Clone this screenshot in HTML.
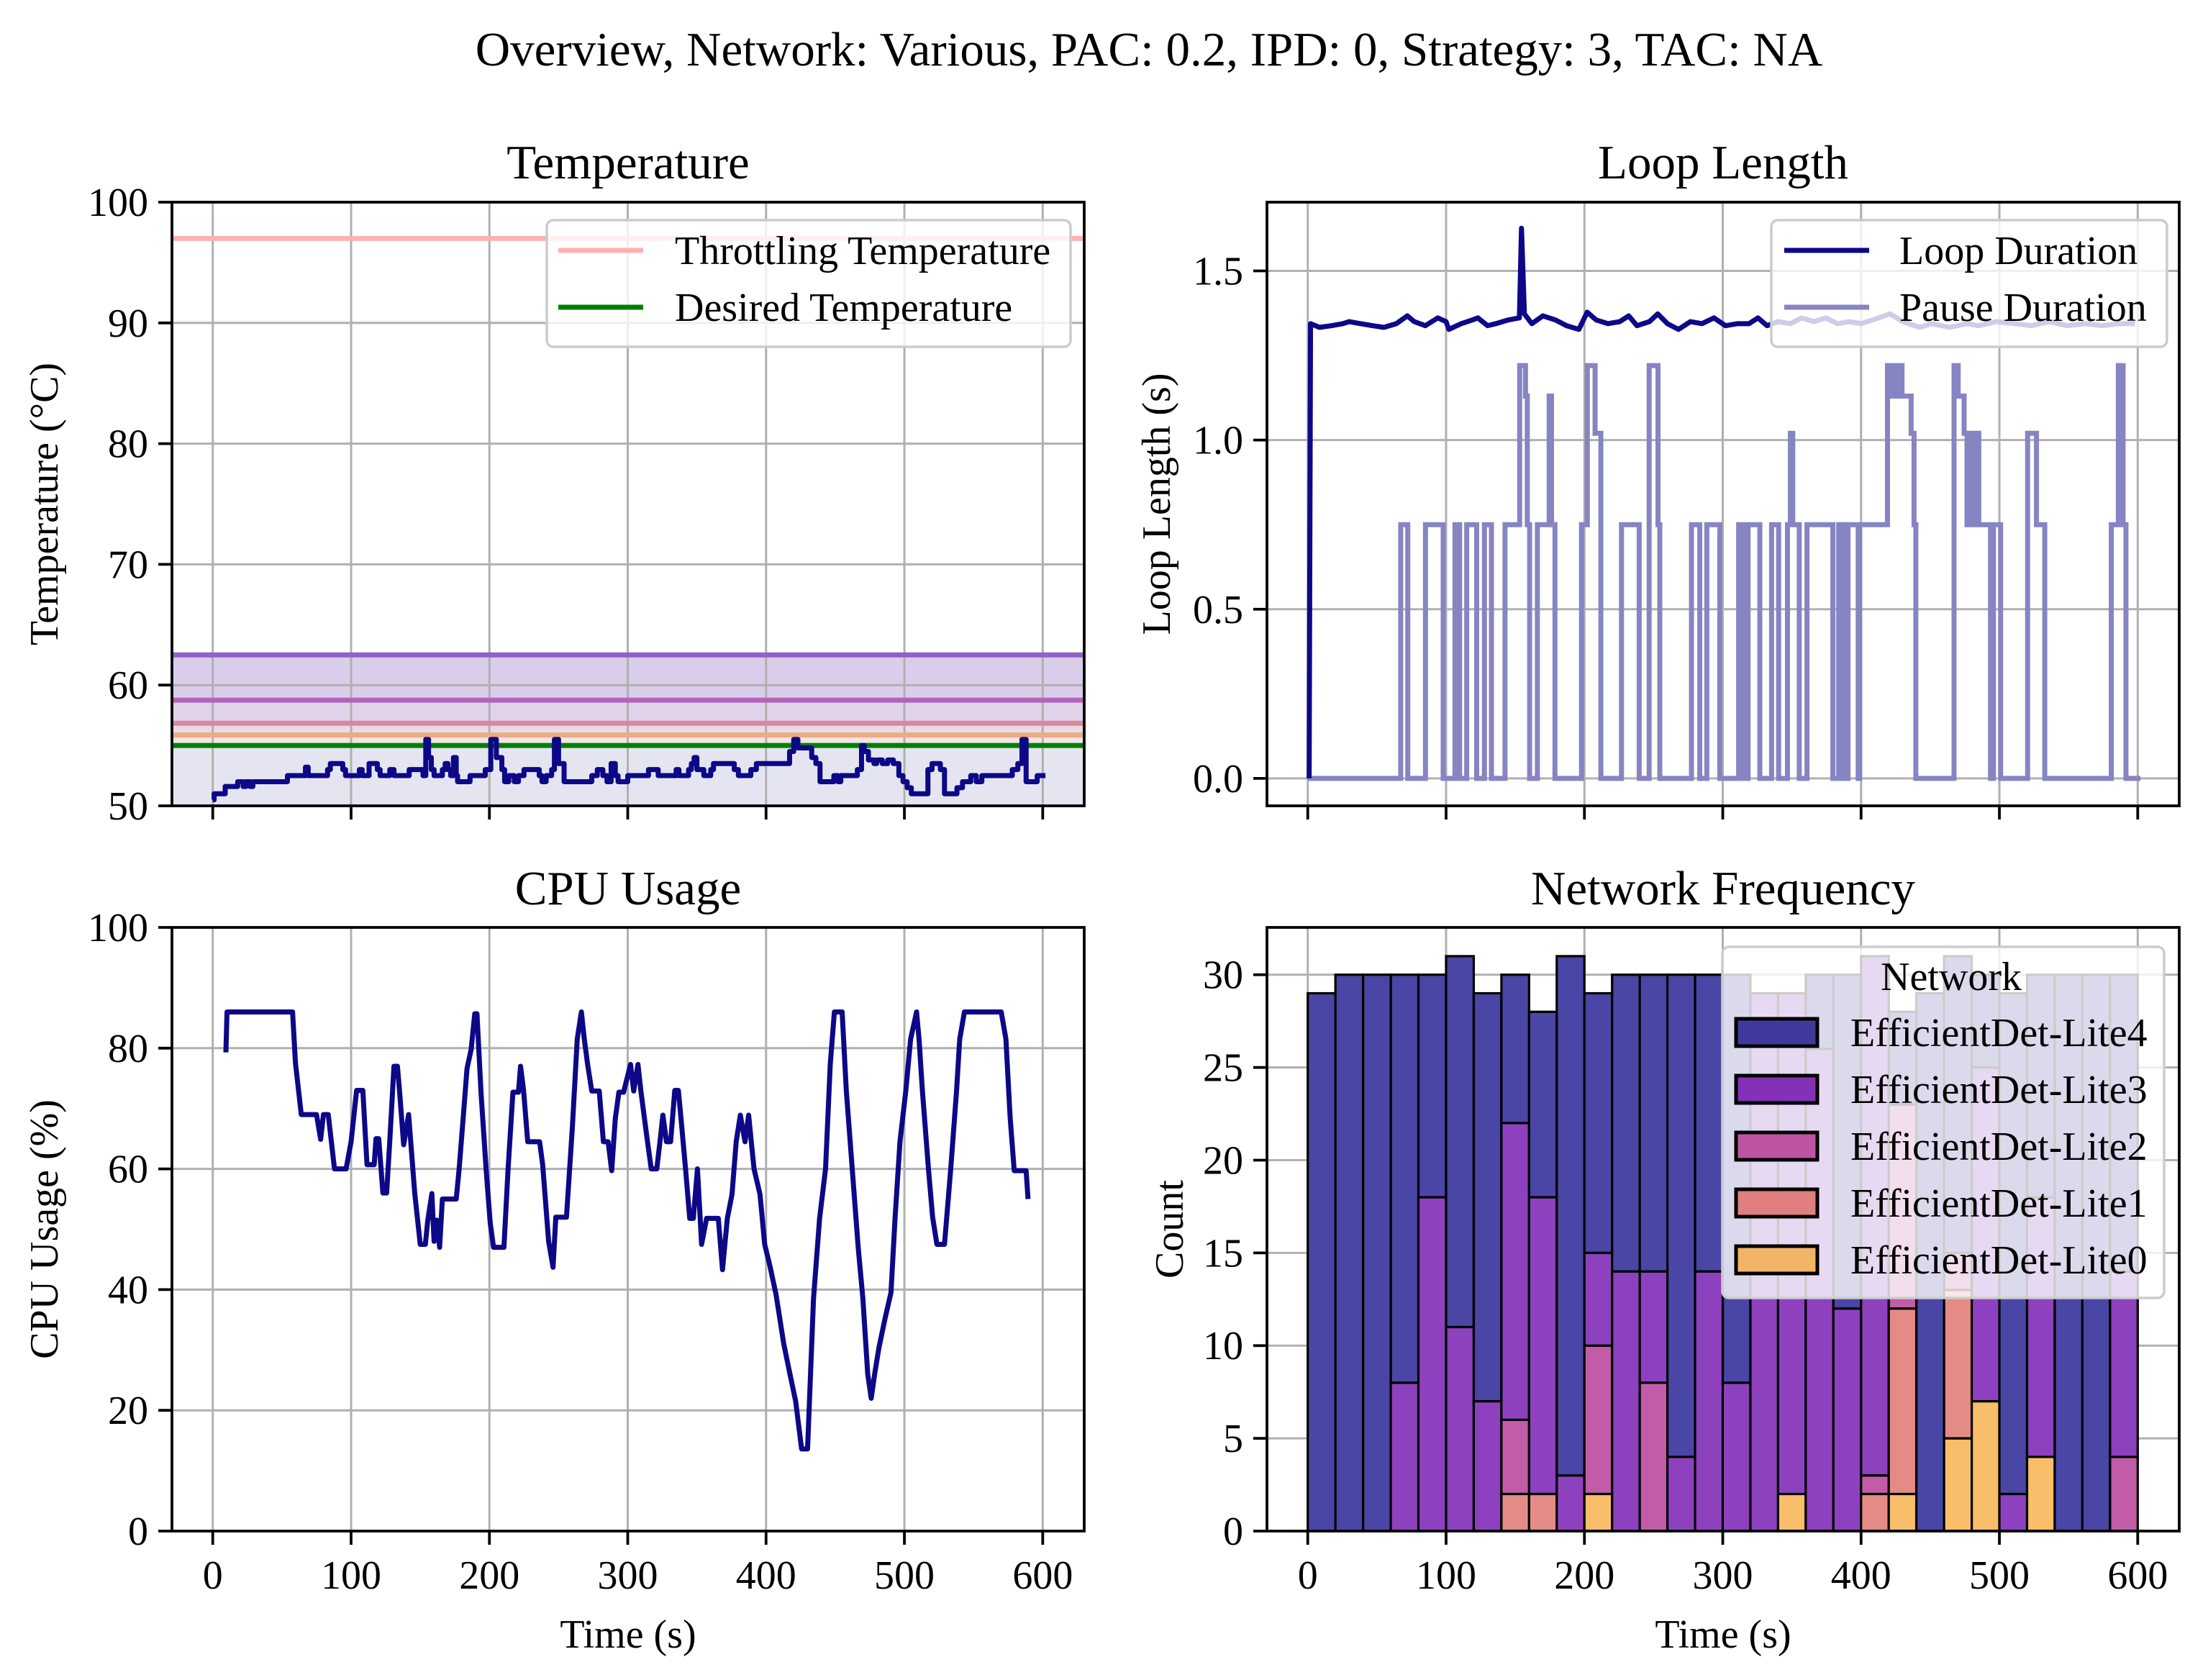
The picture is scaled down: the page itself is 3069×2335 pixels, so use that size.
<!DOCTYPE html>
<html><head><meta charset="utf-8"><style>
html,body{margin:0;padding:0;background:#fff}
svg text{font-family:"Liberation Serif","DejaVu Serif",serif;fill:#000}
</style></head><body>
<svg id="fig" xmlns="http://www.w3.org/2000/svg" width="3069" height="2330" viewBox="0 0 3069 2330"></svg>
<script>
// ---------- DATA ----------
const tempTimes = [0,1,9,18,22,24,27,29,54,67,69,83,85,94,96,106,108,113,119,121,128,131,142,152,154,156,158,160,166,168,170,172,174,176,177,186,197,201,205,209,211,214,218,221,225,236,238,241,245,247,250,254,274,278,282,285,288,291,293,300,315,322,335,337,344,346,348,350,355,360,362,377,380,389,393,417,420,423,433,436,439,449,452,454,466,469,471,474,478,480,484,488,492,496,499,502,505,517,520,526,529,538,542,548,552,556,578,582,585,588,596,602];
const tempValues = [50.5,51.0,51.6,52.0,51.6,52.0,51.6,52.0,52.5,53.2,52.5,53.0,53.5,53.0,52.5,53.0,52.5,53.5,53.0,52.5,53.0,52.5,53.0,52.5,55.5,54.0,53.0,52.5,53.0,53.5,53.0,52.5,54.0,52.5,52.0,52.5,53.0,55.5,54.0,53.0,52.0,52.5,52.0,52.5,53.0,52.5,52.0,52.5,53.0,55.5,53.5,52.0,52.5,53.0,52.5,52.0,53.5,52.5,52.0,52.5,53.0,52.5,53.0,52.5,53.0,53.5,54.0,53.0,52.5,53.0,53.5,53.0,52.5,53.0,53.5,54.5,55.5,54.8,54.0,53.5,52.0,52.5,52.0,52.5,53.0,55.0,54.5,53.8,53.5,53.8,53.5,53.8,53.5,52.5,52.0,51.5,51.0,53.0,53.5,53.0,51.0,51.5,52.0,52.5,52.0,52.5,53.0,53.5,55.5,52.0,52.5,52.5];
const throttleTemp = 97;
const desiredTemp = 55;
const bandLevels = [62.5, 58.75, 56.84, 55.86];

const cpuTimes = [9.5,10.3,57.7,59.8,64,75,78,80,83.5,88,96.4,100,104,108.5,111.5,116.7,118,120,123,125.7,128,131,133.5,135,138,141.6,146,150,153.7,155.4,158.4,160,162,164,166,169.6,176,178,181,183.8,186.8,189.4,191,194,197.6,200.6,203,210.5,213.5,217,221,222.5,224.7,227.7,236.3,238.5,242.8,246,248,255.7,260,263.5,266.5,268.6,271,274,279.4,282.4,285.8,288.4,291,293.6,297,302,304.3,307.4,309.5,314,317,321,323.3,325.4,328,331,334,336.6,338.3,341.8,344.8,347.4,350.4,353.4,357,361,365.5,368.5,372,375.4,378.4,381.4,384.8,387.4,391.3,395.6,399,403,407.2,412.8,417,421.4,425.7,430,434.3,438.7,443,446.4,449.4,455,458,462.3,466.6,470,473.5,476,478.7,481.7,486,490.3,493.3,496.8,501,504.5,508.8,510.6,513,517.4,520.4,523.5,529,533.5,537.7,540,543.4,570,573.4,576.4,579.4,588,589.4];
const cpuValues = [79.3,86,86,77.5,69,69,64.9,69,69,60,60,64.5,73,73,60.7,60.7,65,65,56,56,64.7,77,77,73,64,69,56,47.5,47.5,51.4,55.9,48,51.5,47,55,55,55,59.7,68.3,76.6,79.8,85.7,85.7,72.4,60,51,47,47,60,72.7,72.7,77,73,64.5,64.5,60.7,48,43.7,52,52,67,81.5,86,81.5,77.3,72.9,72.9,64.5,64.5,59.7,68.3,72.7,72.7,77.3,72.9,77.3,72.9,65,60,60,64.5,68.9,64.5,64.5,73,73,68.9,60,51.8,51.8,60,47.5,51.8,51.8,51.8,43.3,51.8,55.8,64.5,68.9,64.5,68.9,60,55.8,47.5,43.7,39.2,31,26.3,21.5,13.6,13.6,38.5,51.8,60,77.3,86,86,73,60,47,38.5,26,22,26.3,30.5,35.2,39.5,52,64.5,72.9,81.5,86,81.5,73,60,52,47.5,47.5,60,72.9,81.5,86,86,81.5,68.7,59.7,59.7,55];

const loopTimes = [1,2,8.5,17,25.5,30,38,47,55,64,72,77,85,94,100,102,111,119,123,130,136,145,153,154.5,156.6,162,170,179,187,196,202,208.5,217,225.5,232,238,247,253,260,268,276.6,285,293.6,302,310.6,319,325.5,332,340,349,357,366,374.5,383,391.5,400,408.5,421,430,442.5,451,464,476.6,485,498,510.6,523,536,549,562,574.5,587,598];
const loopValues = [0,1.344,1.333,1.338,1.344,1.35,1.344,1.338,1.333,1.344,1.367,1.35,1.338,1.361,1.35,1.327,1.344,1.355,1.361,1.338,1.344,1.355,1.361,1.626,1.373,1.344,1.367,1.355,1.338,1.327,1.378,1.355,1.344,1.35,1.367,1.338,1.35,1.373,1.344,1.327,1.35,1.344,1.361,1.338,1.344,1.344,1.361,1.338,1.35,1.344,1.361,1.35,1.361,1.344,1.35,1.344,1.355,1.373,1.35,1.333,1.344,1.333,1.344,1.338,1.35,1.344,1.338,1.35,1.338,1.344,1.338,1.344,1.344];

const pauseTimes = [0,67.2,72.3,85.1,97.9,106.4,109.8,114.9,122.1,127.7,132.8,142.6,153.2,157.4,158.7,160.4,166,174.5,176.2,178.7,197.9,202.1,207.7,211.9,226.8,239.6,246.8,253.2,254.5,277.4,283.4,288.5,297.9,311.5,314.9,318.3,326.8,335.3,340.4,346.8,348.9,350.6,355.3,360.9,379.6,383.8,387.2,390.6,397.9,399,419.1,421,423.2,425.3,427.4,429.6,434,436.2,438.3,439.6,467.2,470.2,474.5,476.6,478.7,480.9,483,485.1,489.4,493.6,495.7,500.9,520.4,526.8,532.8,580.9,586,589.4,591.5,602];
const pauseValues = [0,0.75,0,0.75,0,0.75,0,0.75,0,0.75,0,0.75,1.22,1.13,0.75,0,0.75,1.13,0.75,0,0.75,1.22,1.02,0,0.75,0,1.22,0.75,0,0.75,0,0.75,0,0.75,0,0.75,0,0.75,0,0.75,1.02,0.75,0,0.75,0,0.75,0,0.75,0,0.75,1.22,1.13,1.22,1.13,1.22,1.13,1.13,1.02,0.75,0,1.22,1.13,1.02,0.75,1.02,0.75,1.02,0.75,0.75,0,0.75,0,1.02,0.75,0,0.75,1.22,0.75,0,0];

const binStarts = [0,20,40,60,80,100,120,140,160,180,200,220,240,260,280,300,320,340,360,380,400,420,440,460,480,500,520,540,560,580];
const binWidth = 20;
const networks = ["EfficientDet-Lite4","EfficientDet-Lite3","EfficientDet-Lite2","EfficientDet-Lite1","EfficientDet-Lite0"];
const lite0Counts = [0,0,0,0,0,0,0,0,0,0,2,0,0,0,0,0,0,2,0,0,0,2,0,5,7,0,4,0,0,0];
const lite1Counts = [0,0,0,0,0,0,0,2,2,0,0,0,0,0,0,0,0,0,0,0,2,10,0,8,0,0,0,0,0,0];
const lite2Counts = [0,0,0,0,0,0,0,4,0,0,8,0,8,0,0,0,0,0,0,0,1,11,0,2,0,0,0,0,0,4];
const lite3Counts = [0,0,0,8,18,11,7,16,16,3,5,14,6,4,14,8,29,27,26,12,28,0,0,0,18,2,14,0,0,10];
const lite4Counts = [29,30,30,22,12,20,22,8,10,28,14,16,16,26,16,22,0,0,4,18,0,5,29,16,5,27,12,30,30,16];

const xTicks = [0,100,200,300,400,500,600];
const tempTicks = [50,60,70,80,90,100];
const cpuTicks = [0,20,40,60,80,100];
const loopTicks = [0,0.5,1.0,1.5];
const loopTickLabels = ["0.0","0.5","1.0","1.5"];
const countTicks = [0,5,10,15,20,25,30];

// ---------- HELPERS ----------
const NS = "http://www.w3.org/2000/svg";
const svg = document.getElementById("fig");
const FS = 56, TFS = 67, LW = 7;
function mk(tag, attrs, parent) {
  const e = document.createElementNS(NS, tag);
  for (const k in attrs) e.setAttribute(k, attrs[k]);
  (parent || svg).appendChild(e);
  return e;
}
function txt(s, attrs, parent) { const e = mk("text", attrs, parent); e.textContent = s; return e; }
function axis(x0, x1, y0, y1, xmin, xmax, ymin, ymax) {
  return { x0, x1, y0, y1,
    sx: v => x0 + (v - xmin) / (xmax - xmin) * (x1 - x0),
    sy: v => y1 - (v - ymin) / (ymax - ymin) * (y1 - y0) };
}
const XMIN = -29.5, XMAX = 630;
const TL = axis(239, 1507, 281, 1120, XMIN, XMAX, 50, 100);
const TR = axis(1761, 3029, 281, 1120, XMIN, XMAX, -0.081, 1.703);
const BL = axis(239, 1507, 1289, 2128, XMIN, XMAX, 0, 100);
const BR = axis(1761, 3029, 1289, 2128, XMIN, XMAX, 0, 32.55);

function grid(ax, yt, g) {
  for (const t of xTicks) {
    const l = mk("line", {x1: ax.sx(t), x2: ax.sx(t), y1: ax.y0, y2: ax.y1, stroke: "#b0b0b0", "stroke-width": 3}, g);
    
    
  }
  for (const t of yt) {
    const l = mk("line", {x1: ax.x0, x2: ax.x1, y1: ax.sy(t), y2: ax.sy(t), stroke: "#b0b0b0", "stroke-width": 3}, g);
    
    
  }
}
function frame(ax, yt, ylabels, showX, g) {
  const r = mk("rect", {x: ax.x0, y: ax.y0, width: ax.x1 - ax.x0, height: ax.y1 - ax.y0, fill: "none", stroke: "#000", "stroke-width": 3.8}, g);
  
  
  xTicks.forEach(t => {
    const k = mk("line", {x1: ax.sx(t), x2: ax.sx(t), y1: ax.y1, y2: ax.y1 + 19, stroke: "#000", "stroke-width": 3.8}, g);
    
    
    if (showX) {
      const lb = txt(String(t), {x: ax.sx(t), y: ax.y1 + 80, "font-size": FS, "text-anchor": "middle"}, g);
      
      
    }
  });
  yt.forEach((t, i) => {
    const k = mk("line", {x1: ax.x0 - 19, x2: ax.x0, y1: ax.sy(t), y2: ax.sy(t), stroke: "#000", "stroke-width": 3.8}, g);
    
    
    const lb = txt(ylabels[i], {x: ax.x0 - 33, y: ax.sy(t) + 19, "font-size": FS, "text-anchor": "end"}, g);
    
    
  });
}
function stepPath(ax, ts, vs) {
  let d = "M" + ax.sx(ts[0]) + "," + ax.sy(vs[0]);
  for (let i = 1; i < ts.length; i++) d += "H" + ax.sx(ts[i]) + "V" + ax.sy(vs[i]);
  return d;
}
function linePath(ax, ts, vs) {
  return ts.map((t, i) => (i ? "L" : "M") + ax.sx(t) + "," + ax.sy(vs[i])).join("");
}
function legendBox(x, y, w, h, g) {
  const b = mk("rect", {x, y, width: w, height: h, rx: 9, fill: "#fff", "fill-opacity": 0.8, stroke: "#cccccc", "stroke-width": 3.5}, g);
  
  
}

// ---------- TITLE ----------
const title = txt("Overview, Network: Various, PAC: 0.2, IPD: 0, Strategy: 3, TAC: NA", {x: 1597, y: 91, "font-size": TFS, "text-anchor": "middle"});



// ---------- TEMPERATURE ----------
const gT = mk("g", {});


const bandFillColors = ["#dacdea", "#e0d2e9", "#e9dbe3", "#efe6ea"];
const lowBand = mk("rect", {x: TL.x0, y: TL.sy(desiredTemp), width: TL.x1 - TL.x0, height: TL.sy(50) - TL.sy(desiredTemp), fill: "#e5e5f1"}, gT);


bandLevels.forEach((lv, i) => {
  const next = i < bandLevels.length - 1 ? bandLevels[i + 1] : desiredTemp;
  const r = mk("rect", {x: TL.x0, y: TL.sy(lv), width: TL.x1 - TL.x0, height: TL.sy(next) - TL.sy(lv), fill: bandFillColors[i]}, gT);
  
  
});
grid(TL, tempTicks, gT);
const bandLineColors = ["#9062c2", "#b463bb", "#d9889f", "#eeab80"];
bandLevels.forEach((lv, i) => {
  const l = mk("line", {x1: TL.x0, x2: TL.x1, y1: TL.sy(lv), y2: TL.sy(lv), stroke: bandLineColors[i], "stroke-width": 7}, gT);
  
  
});
const thr = mk("line", {x1: TL.x0, x2: TL.x1, y1: TL.sy(throttleTemp), y2: TL.sy(throttleTemp), stroke: "#ffb1b1", "stroke-width": 7}, gT);


const des = mk("line", {x1: TL.x0, x2: TL.x1, y1: TL.sy(desiredTemp), y2: TL.sy(desiredTemp), stroke: "#008000", "stroke-width": 7}, gT);


const tLine = mk("path", {d: stepPath(TL, tempTimes, tempValues), fill: "none", stroke: "#0d0887", "stroke-width": LW, "stroke-linejoin": "round"}, gT);


frame(TL, tempTicks, tempTicks.map(String), false, gT);
const tTitle = txt("Temperature", {x: (TL.x0 + TL.x1) / 2, y: 248, "font-size": TFS, "text-anchor": "middle"}, gT);


const tYl = txt("Temperature (°C)", {x: 0, y: 0, "font-size": FS, "text-anchor": "middle", transform: "translate(80," + (TL.y0 + TL.y1) / 2 + ") rotate(-90)"}, gT);


legendBox(760, 306, 728, 176, gT);
const tl1 = mk("line", {x1: 776, x2: 894, y1: 348, y2: 348, stroke: "#ffb1b1", "stroke-width": 7}, gT);


const tt1 = txt("Throttling Temperature", {x: 938, y: 367, "font-size": FS}, gT);


const tl2 = mk("line", {x1: 776, x2: 894, y1: 427, y2: 427, stroke: "#008000", "stroke-width": 7}, gT);


const tt2 = txt("Desired Temperature", {x: 938, y: 446, "font-size": FS}, gT);



// ---------- LOOP LENGTH ----------
const gL = mk("g", {});


grid(TR, loopTicks, gL);
const pLine = mk("path", {d: stepPath(TR, pauseTimes, pauseValues), fill: "none", stroke: "#8784c3", "stroke-width": LW}, gL);


const lLine = mk("path", {d: linePath(TR, loopTimes, loopValues), fill: "none", stroke: "#0d0887", "stroke-width": LW, "stroke-linejoin": "round"}, gL);


frame(TR, loopTicks, loopTickLabels, false, gL);
const lTitle = txt("Loop Length", {x: (TR.x0 + TR.x1) / 2, y: 248, "font-size": TFS, "text-anchor": "middle"}, gL);


const lYl = txt("Loop Length (s)", {x: 0, y: 0, "font-size": FS, "text-anchor": "middle", transform: "translate(1626," + (TR.y0 + TR.y1) / 2 + ") rotate(-90)"}, gL);


legendBox(2462, 306, 550, 176, gL);
const ll1 = mk("line", {x1: 2480, x2: 2598, y1: 348, y2: 348, stroke: "#0d0887", "stroke-width": 7}, gL);


const lt1 = txt("Loop Duration", {x: 2640, y: 367, "font-size": FS}, gL);


const ll2 = mk("line", {x1: 2480, x2: 2598, y1: 427, y2: 427, stroke: "#8784c3", "stroke-width": 7}, gL);


const lt2 = txt("Pause Duration", {x: 2640, y: 446, "font-size": FS}, gL);



// ---------- CPU ----------
const gC = mk("g", {});


grid(BL, cpuTicks, gC);
const cLine = mk("path", {d: linePath(BL, cpuTimes, cpuValues), fill: "none", stroke: "#0d0887", "stroke-width": LW, "stroke-linejoin": "round"}, gC);


frame(BL, cpuTicks, cpuTicks.map(String), true, gC);
const cTitle = txt("CPU Usage", {x: (BL.x0 + BL.x1) / 2, y: 1257, "font-size": TFS, "text-anchor": "middle"}, gC);


const cYl = txt("CPU Usage (%)", {x: 0, y: 0, "font-size": FS, "text-anchor": "middle", transform: "translate(80," + (BL.y0 + BL.y1) / 2 + ") rotate(-90)"}, gC);


const cXl = txt("Time (s)", {x: (BL.x0 + BL.x1) / 2, y: 2290, "font-size": FS, "text-anchor": "middle"}, gC);



// ---------- HISTOGRAM ----------
const gH = mk("g", {});


grid(BR, countTicks, gH);
const seriesBottomUp = [lite0Counts, lite1Counts, lite2Counts, lite3Counts, lite4Counts];
const seriesColors = ["#f9be6a", "#e58b85", "#c25ca8", "#8e41be", "#4a46a5"];
binStarts.forEach((b, i) => {
  let base = 0;
  seriesBottomUp.forEach((s, j) => {
    const c = s[i];
    if (c > 0) {
      const r = mk("rect", {x: BR.sx(b), y: BR.sy(base + c), width: BR.sx(b + binWidth) - BR.sx(b), height: BR.sy(base) - BR.sy(base + c), fill: seriesColors[j], stroke: "#000", "stroke-width": 3.2}, gH);
      
      
    }
    base += c;
  });
});
frame(BR, countTicks, countTicks.map(String), true, gH);
const hTitle = txt("Network Frequency", {x: (BR.x0 + BR.x1) / 2, y: 1257, "font-size": TFS, "text-anchor": "middle"}, gH);


const hYl = txt("Count", {x: 0, y: 0, "font-size": FS, "text-anchor": "middle", transform: "translate(1644," + (BR.y0 + BR.y1) / 2 + ") rotate(-90)"}, gH);


const hXl = txt("Time (s)", {x: (BR.x0 + BR.x1) / 2, y: 2290, "font-size": FS, "text-anchor": "middle"}, gH);


legendBox(2394, 1316, 614, 488, gH);
const hlt = txt("Network", {x: 2712, y: 1376, "font-size": FS, "text-anchor": "middle"}, gH);


const legendColors = ["#3f3a9c", "#8430b7", "#bd55a3", "#e07f80", "#f2b466"];
networks.forEach((n, i) => {
  const cy = 1435 + i * 79;
  const p = mk("rect", {x: 2413, y: cy - 19, width: 113, height: 38, fill: legendColors[i], stroke: "#000", "stroke-width": 5}, gH);
  
  
  const t = txt(n, {x: 2572, y: cy + 19, "font-size": FS}, gH);
  
  
});
</script>
</body></html>
